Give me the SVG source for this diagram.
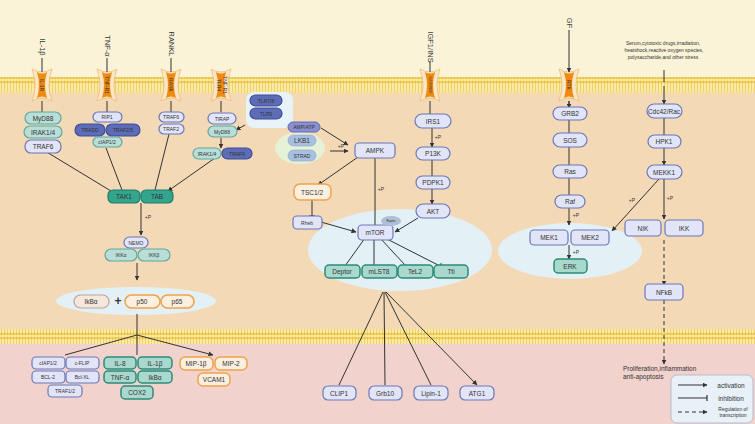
<svg xmlns="http://www.w3.org/2000/svg" width="755" height="424" viewBox="0 0 755 424">
<defs>
<style>
text{font-family:"Liberation Sans",Arial,sans-serif;font-size:6.5px;fill:#333;text-anchor:middle;dominant-baseline:central}
.s{font-size:5px}
.lg{font-size:7.5px}
.lv{fill:#e1e5f7;stroke:#6d77ba;stroke-width:1.2}
.tl{fill:#b9ddd7;stroke:#5fa9a0;stroke-width:1.2}
.dt{fill:#33a58d;stroke:#1f7f6c;stroke-width:1.2}
.db{fill:#5d6cb7;stroke:#3f4c9a;stroke-width:1.2}
.or{fill:#fbefdf;stroke:#f0a24c;stroke-width:1.5}
.mc{fill:#a9d8cd;stroke:#2c8a79;stroke-width:1.5}
.ln{stroke:#333;stroke-width:1;fill:none}
.a{marker-end:url(#ar)}
.t{marker-end:url(#tb)}
</style>
<marker id="ar" viewBox="0 0 10 10" refX="9" refY="5" markerWidth="5" markerHeight="5" orient="auto"><path d="M0,0L10,5L0,10z" fill="#333"/></marker>
<marker id="tb" viewBox="0 0 4 10" refX="2" refY="5" markerWidth="3" markerHeight="6" orient="auto"><path d="M2,0V10" stroke="#333" stroke-width="2"/></marker>
<pattern id="mem" width="3" height="16" patternUnits="userSpaceOnUse"><rect width="3" height="16" fill="#fbe9a8"/><circle cx="1.5" cy="2" r="1.3" fill="#e8c23a"/><circle cx="1.5" cy="14" r="1.3" fill="#e8c23a"/><path d="M1.5,3V13" stroke="#e8c23a" stroke-width="0.6"/></pattern>
<g id="rec"><path d="M-10,-16Q0,-10 10,-16Q4,0 10,16Q0,10 -10,16Q-4,0 -10,-16z" fill="#fbe7c5" stroke="#e8b870" stroke-width="0.7"/><path d="M-5,-13Q0,-10 5,-13Q1,0 5,13Q0,10 -5,13Q-1,0 -5,-13z" fill="#f08a10"/></g>
</defs>
<rect width="755" height="78" fill="#faf3d8"/>
<rect y="92" width="755" height="240" fill="#f3d9b6"/>
<rect y="343" width="755" height="81" fill="#f1d2cd"/>
<rect y="77" width="755" height="16" fill="url(#mem)"/>
<rect y="329" width="755" height="15" fill="url(#mem)"/>
<ellipse cx="136" cy="301" rx="80" ry="14" fill="#e3f1f7"/>
<ellipse cx="400" cy="250" rx="92" ry="41" fill="#e3f1f7"/>
<ellipse cx="570" cy="251" rx="72" ry="28" fill="#e3f1f7"/>
<ellipse cx="300" cy="148" rx="25" ry="16" fill="#e6f2d8"/>
<rect x="246" y="92" width="47" height="36" rx="8" fill="#e8f3f8"/>

<g id="receptors">
<use href="#rec" x="42" y="85"/><use href="#rec" x="107" y="85"/><use href="#rec" x="171" y="85"/><use href="#rec" x="221" y="85"/><use href="#rec" x="430" y="85"/><use href="#rec" x="569" y="85"/>
<text class="s" transform="translate(42,85) rotate(90)">IL-1R</text>
<text class="s" transform="translate(107,85) rotate(90)">TNF-R1</text>
<text class="s" transform="translate(171,85) rotate(90)">RANK</text>
<text class="s" transform="translate(219,85) rotate(90)">TLR4</text>
<text class="s" transform="translate(225,85) rotate(90)">TNF-R1</text>
<text class="s" transform="translate(430,85) rotate(90)" style="font-size:3px">IGF1R/INSR</text>
<text class="s" transform="translate(569,85) rotate(90)">RTK</text>
<text class="lg" transform="translate(42,47) rotate(90)">IL-1β</text>
<text class="lg" transform="translate(107,46) rotate(90)">TNF-α</text>
<text class="lg" transform="translate(171,44) rotate(90)">RANKL</text>
<text class="lg" transform="translate(430,47) rotate(90)">IGF1/INS</text>
<text class="lg" transform="translate(569,23) rotate(90)">GF</text>
<text x="663" y="43" class="s">Serum,cytotoxic drugs,irradiation,</text>
<text x="664" y="50" class="s">heatshock,reactive oxygen species,</text>
<text x="663" y="57" class="s">polysaccharide,and other stress</text>
</g>

<g id="connectors">
<path class="ln a" d="M42,58V72M107,58V72M171,58V72M430,62V72M569,30V72"/>
<path class="ln a" d="M42,101V112M107,101V112M171,101V112M221,101V112M430,101V114M569,101V108"/>
<path class="ln a" d="M45,151L111,191M106,148L122,190M169,134L155,190M215,158L168,191"/>
<path class="ln a" d="M221,138V148"/><path class="ln a" d="M245,125L236,130"/>
<path class="ln a" d="M141,203V235"/><text x="148" y="217" class="s">+P</text>
<path class="ln a" d="M137,263V280"/>
<path class="ln" d="M137,314V335"/>
<path class="ln a" d="M137,335L65,355M137,335V355M137,335L213,355"/>
<path class="ln a" d="M321,128L348,145"/><path class="ln a" d="M330,151H348"/><text x="341" y="146" class="s">+P</text>
<path class="ln a" d="M358,157L318,185"/>
<path class="ln t" d="M375,157V226"/><text x="381" y="189" class="s">+P</text>
<path class="ln t" d="M312,200V216"/>
<path class="ln a" d="M321,222L356,232"/>
<path class="ln a" d="M432,128V147"/><text x="438" y="137" class="s">+P</text>
<path class="ln a" d="M432,160V176M432,189V204"/>
<path class="ln a" d="M418,218L395,232"/>
<path class="ln t" d="M365,238L345,266M374,238V266M380,238L406,266M385,238L440,266"/>
<path class="ln a" d="M383,292L339,385M384,292L385,385M385,292L431,385M386,292L477,385"/>
<path class="ln" d="M569,101V107M569,119V133"/>
<path class="ln a" d="M569,147V165M569,178V195M569,208V225"/><text x="576" y="215" class="s">+P</text>
<path class="ln a" d="M569,245V259"/><text x="576" y="252" class="s">+P</text>
<path class="ln" d="M664,70V82"/><path class="ln a" d="M664,86V104"/>
<path class="ln a" d="M664,118V135M664,148V165"/>
<path class="ln a" d="M659,179L612,231"/><text x="632" y="200" class="s">+P</text>
<path class="ln a" d="M664,179V219"/><text x="670" y="198" class="s">+P</text>
<path class="ln a" d="M664,240V285" stroke-dasharray="4,3"/>
<path class="ln a" d="M664,300V364" stroke-dasharray="4,3"/>
</g>

<g id="il1"><rect class="tl" x="25" y="112" width="36" height="12" rx="6"/><text x="43" y="118">MyD88</text>
<rect class="tl" x="24" y="126" width="38" height="12" rx="6"/><text x="43" y="132">IRAK1/4</text>
<rect class="lv" x="25" y="140" width="36" height="13" rx="6"/><text x="43" y="146.5">TRAF6</text></g>
<g id="tnf"><rect class="lv" x="93" y="112" width="29" height="10" rx="5"/><text class="s" x="107" y="117">RIP1</text>
<rect class="db" x="75" y="124" width="30" height="12" rx="6"/><text class="s" x="90" y="130">TRADD</text>
<rect class="db" x="106" y="124" width="34" height="12" rx="6"/><text class="s" x="123" y="130">TRAF2/5</text>
<rect class="tl" x="93" y="137" width="29" height="10" rx="5"/><text class="s" x="107" y="142">cIAP1/2</text></g>
<g id="rank"><rect class="lv" x="159" y="112" width="25" height="10" rx="5"/><text class="s" x="171" y="117">TRAF6</text>
<rect class="lv" x="159" y="124" width="25" height="10" rx="5"/><text class="s" x="171" y="129">TRAF2</text></g>
<g id="tlr4"><rect class="lv" x="208" y="113" width="28" height="11" rx="5.5"/><text class="s" x="222" y="118.5">TIRAP</text>
<rect class="tl" x="208" y="126" width="29" height="11" rx="5.5"/><text class="s" x="222" y="131.5">MyD88</text>
<rect class="tl" x="193" y="148" width="28" height="11" rx="5.5"/><text class="s" x="207" y="153.5">IRAK1/4</text>
<rect class="db" x="222" y="148" width="30" height="11" rx="5.5"/><text class="s" x="237" y="153.5">TRAF6</text></g>
<g id="tlr79"><rect class="db" x="250" y="95" width="32" height="11" rx="5.5"/><text class="s" x="266" y="100.5">TLR7/8</text>
<rect class="db" x="250" y="108" width="32" height="11" rx="5.5"/><text class="s" x="266" y="113.5">TLR9</text></g>
<g id="tak"><rect class="dt" x="108" y="190" width="32" height="13" rx="5"/><text x="124" y="196.5">TAK1</text>
<rect class="dt" x="141" y="190" width="32" height="13" rx="5"/><text x="157" y="196.5">TAB</text></g>
<g id="ikk"><rect class="lv" x="124" y="237" width="24" height="11" rx="5.5"/><text class="s" x="136" y="242.5">NEMO</text>
<rect class="tl" x="105" y="249" width="32" height="12" rx="6"/><text class="s" x="121" y="255">IKKα</text>
<rect class="tl" x="138" y="249" width="32" height="12" rx="6"/><text class="s" x="154" y="255">IKKβ</text></g>
<g id="nfkbc"><rect x="74" y="295" width="35" height="13" rx="6.5" fill="#f6e7dc" stroke="#b9a79a" stroke-width="1.2"/><text x="91" y="301.5">IkBα</text>
<text x="118" y="301" style="font-size:12px;font-weight:bold">+</text>
<rect class="or" x="125" y="295" width="35" height="13" rx="6.5"/><text x="142" y="301.5">p50</text>
<rect class="or" x="161" y="295" width="33" height="13" rx="6.5"/><text x="177" y="301.5">p65</text></g>
<g id="g1"><rect class="lv" x="32" y="357" width="33" height="12" rx="4"/><text class="s" x="48" y="363">cIAP1/2</text>
<rect class="lv" x="66" y="357" width="33" height="12" rx="4"/><text class="s" x="82" y="363">c-FLIP</text>
<rect class="lv" x="32" y="371" width="33" height="12" rx="4"/><text class="s" x="48" y="377">BCL-2</text>
<rect class="lv" x="66" y="371" width="33" height="12" rx="4"/><text class="s" x="82" y="377">Bcl-XL</text>
<rect class="lv" x="48" y="385" width="34" height="12" rx="4"/><text class="s" x="65" y="391">TRAF1/2</text></g>
<g id="g2"><rect class="mc" x="104" y="357" width="32" height="12" rx="4"/><text x="120" y="363">IL-8</text>
<rect class="mc" x="138" y="357" width="34" height="12" rx="4"/><text x="155" y="363">IL-1β</text>
<rect class="mc" x="104" y="371" width="32" height="12" rx="4"/><text x="120" y="377">TNF-α</text>
<rect class="mc" x="138" y="371" width="34" height="12" rx="4"/><text x="155" y="377">IkBα</text>
<rect class="mc" x="121" y="386" width="32" height="13" rx="4"/><text x="137" y="392.5">COX2</text></g>
<g id="g3"><rect class="or" x="180" y="357" width="33" height="13" rx="5"/><text x="196" y="363.5">MIP-1β</text>
<rect class="or" x="215" y="357" width="32" height="13" rx="5"/><text x="231" y="363.5">MIP-2</text>
<rect class="or" x="198" y="373" width="32" height="13" rx="5"/><text x="214" y="379.5">VCAM1</text></g>
<g id="ampk"><rect x="288" y="122" width="32" height="10" rx="5" fill="#8a8fd0" stroke="#6068b0"/><text class="s" x="304" y="127">AMP/ATP</text>
<rect x="288" y="135" width="28" height="11" rx="5.5" fill="#a9bfe0" stroke="#8da4cc" stroke-width="0.6"/><text x="302" y="140.5">LKB1</text>
<rect x="288" y="150" width="28" height="11" rx="5.5" fill="#a9bfe0" stroke="#8da4cc" stroke-width="0.6"/><text class="s" x="302" y="155.5">STRAD</text>
<rect class="lv" x="355" y="143" width="40" height="15" rx="4"/><text x="375" y="150.5">AMPK</text>
<rect class="or" x="294" y="184" width="37" height="16" rx="6"/><text x="312" y="192">TSC1/2</text>
<rect class="lv" x="293" y="216" width="29" height="13" rx="4"/><text class="s" x="307" y="222.5">Rheb</text>
<rect class="lv" x="358" y="225" width="35" height="15" rx="4"/><text x="375" y="232.5">mTOR</text>
<ellipse cx="391" cy="221" rx="10" ry="5" fill="#aebfd6"/><text x="391" y="221" style="font-size:3px">Raptor</text>
<rect class="mc" x="325" y="265" width="35" height="13" rx="4"/><text x="342" y="271.5">Deptor</text>
<rect class="mc" x="362" y="265" width="35" height="13" rx="4"/><text x="379" y="271.5">mLST8</text>
<rect class="mc" x="398" y="265" width="35" height="13" rx="4"/><text x="415" y="271.5">TeL2</text>
<rect class="mc" x="434" y="265" width="34" height="13" rx="4"/><text x="451" y="271.5">Tti</text></g>
<g id="igf"><rect class="lv" x="415" y="114" width="36" height="14" rx="7"/><text x="433" y="121">IRS1</text>
<rect class="lv" x="416" y="147" width="34" height="13" rx="6.5"/><text x="433" y="153.5">P13K</text>
<rect class="lv" x="416" y="176" width="34" height="13" rx="6.5"/><text x="433" y="182.5">PDPK1</text>
<rect class="lv" x="416" y="204" width="34" height="14" rx="7"/><text x="433" y="211">AKT</text></g>
<g id="mtorout"><rect class="lv" x="323" y="386" width="33" height="14" rx="5"/><text x="339" y="393">CLIP1</text>
<rect class="lv" x="369" y="386" width="33" height="14" rx="5"/><text x="385" y="393">Grb10</text>
<rect class="lv" x="414" y="386" width="34" height="14" rx="5"/><text x="431" y="393">Lipin-1</text>
<rect class="lv" x="460" y="386" width="34" height="14" rx="5"/><text x="477" y="393">ATG1</text></g>
<g id="mapk"><rect class="lv" x="553" y="107" width="34" height="13" rx="6.5"/><text x="570" y="113.5">GRB2</text>
<rect class="lv" x="553" y="133" width="34" height="14" rx="7"/><text x="570" y="140">SOS</text>
<rect class="lv" x="553" y="165" width="34" height="13" rx="6.5"/><text x="570" y="171.5">Ras</text>
<rect class="lv" x="555" y="195" width="30" height="13" rx="6.5"/><text x="570" y="201.5">Raf</text>
<rect class="lv" x="530" y="230" width="38" height="15" rx="4"/><text x="549" y="237.5">MEK1</text>
<rect class="lv" x="571" y="230" width="38" height="15" rx="4"/><text x="590" y="237.5">MEK2</text>
<rect class="mc" x="554" y="259" width="33" height="14" rx="4"/><text x="570" y="266">ERK</text></g>
<g id="stress"><rect class="lv" x="647" y="104" width="35" height="14" rx="7"/><text x="664" y="111">Cdc42/Rac</text>
<rect class="lv" x="648" y="135" width="33" height="13" rx="6.5"/><text x="664" y="141.5">HPK1</text>
<rect class="lv" x="647" y="165" width="35" height="14" rx="7"/><text x="664" y="172">MEKK1</text>
<rect class="lv" x="625" y="220" width="36" height="16" rx="4"/><text x="643" y="228">NIK</text>
<rect class="lv" x="665" y="220" width="38" height="16" rx="4"/><text x="684" y="228">IKK</text>
<rect class="lv" x="645" y="284" width="38" height="16" rx="4"/><text x="664" y="292">NFkB</text>
<text x="623" y="368" style="text-anchor:start">Proliferation,inflammation</text>
<text x="623" y="376" style="text-anchor:start">anti-apoptosis</text></g>
<g id="legend"><rect x="671" y="375" width="82" height="48" rx="6" fill="#e8f1f8" stroke="#aab5c8" stroke-width="0.8"/>
<path class="ln a" d="M678,385H707"/><text x="731" y="385">activation</text>
<path class="ln t" d="M678,398H707"/><text x="731" y="398">inhibition</text>
<path class="ln a" d="M678,412H707" stroke-dasharray="4,3"/><text class="s" x="733" y="409">Regulation of</text><text class="s" x="733" y="415">transcription</text></g>
</svg>
